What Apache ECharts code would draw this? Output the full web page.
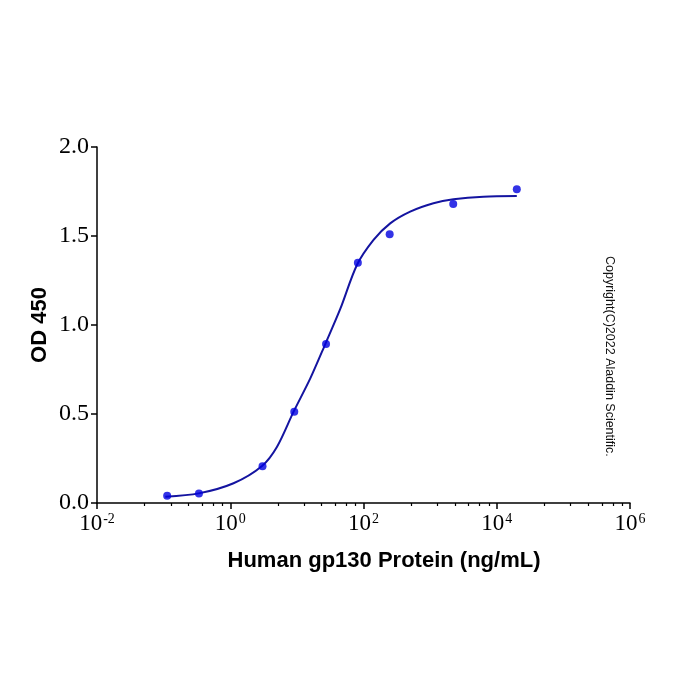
<!DOCTYPE html>
<html>
<head>
<meta charset="utf-8">
<script src="https://cdn.jsdelivr.net/npm/echarts@6/dist/echarts.min.js"></script>
<style>
  html, body { margin: 0; padding: 0; background: #fff; }
  #main { width: 700px; height: 700px; }
</style>
</head>
<body>
<div id="main"></div>
<script>
// 实测点 (ng/mL, OD450)
var conc = [0.113, 0.339, 3.05, 9.14, 27.4, 82.3, 247, 2222, 20000];
var od = [0.041, 0.054, 0.206, 0.513, 0.893, 1.350, 1.510, 1.680, 1.762];

// 拟合曲线
var fitX = [0.106, 0.336, 1.12, 3.0, 5.04, 8.93, 15.9, 26.7, 44.8, 79.7, 141.5, 251.6, 502, 1122, 2239, 6310, 20000];
var fitY = [0.035, 0.054, 0.111, 0.208, 0.316, 0.513, 0.700, 0.893, 1.090, 1.337, 1.478, 1.571, 1.637, 1.684, 1.706, 1.721, 1.725];

// 坐标轴刻度
var xMajor = [0.01, 1, 100, 10000, 1000000];
var minorMul = [5.2, 12.8, 23.6, 37.7, 55.2, 75.9];
var xMinor = [];
xMajor.slice(0, -1).forEach(function (b) {
    minorMul.forEach(function (m) { xMinor.push(b * m); });
});

var myChart = echarts.init(document.getElementById('main'));

var serif = 'Liberation Serif';
var sans = 'Liberation Sans';

var option = {
    backgroundColor: '#fff',
    animation: false,
    grid: { left: 97, right: 70, top: 147, bottom: 197 },
    xAxis: [
        {
            type: 'log',
            logBase: 10,
            min: 0.01,
            max: 1000000,
            name: 'Human gp130 Protein (ng/mL)',
            nameLocation: 'middle',
            nameGap: 47,
            nameMoveOverlap: false,
            nameTextStyle: {
                fontFamily: sans, fontWeight: 'bold', fontSize: 22, color: '#000',
                padding: [0, 0, 0, 41]
            },
            axisLine: { lineStyle: { color: '#000', width: 1.5 } },
            axisTick: { inside: false, length: 6, customValues: xMajor, lineStyle: { color: '#000', width: 1.5 } },
            splitLine: { show: false },
            axisLabel: {
                customValues: xMajor,
                margin: 9,
                formatter: function (v) {
                    var e = Math.round(Math.log10(v));
                    return '{b|10}{s|' + e + '}';
                },
                rich: {
                    b: { fontFamily: serif, fontSize: 23, color: '#000' },
                    s: { fontFamily: serif, fontSize: 14, color: '#000', verticalAlign: 'top', padding: [0, 0, 9, 1] }
                }
            }
        },
        {
            type: 'log',
            logBase: 10,
            min: 0.01,
            max: 1000000,
            position: 'bottom',
            axisLine: { show: false },
            axisLabel: { show: false },
            splitLine: { show: false },
            axisTick: { inside: false, length: 3, customValues: xMinor, lineStyle: { color: '#000', width: 1.2 } }
        }
    ],
    yAxis: {
        type: 'value',
        min: 0,
        max: 2,
        interval: 0.5,
        name: 'OD 450',
        nameLocation: 'middle',
        nameGap: 46,
        nameMoveOverlap: false,
        nameTextStyle: { fontFamily: sans, fontWeight: 'bold', fontSize: 22, color: '#000' },
        axisLine: { show: true, lineStyle: { color: '#000', width: 1.5 } },
        axisTick: { show: true, inside: false, length: 6, lineStyle: { color: '#000', width: 1.5 } },
        splitLine: { show: false },
        axisLabel: {
            margin: 8,
            fontFamily: serif,
            fontSize: 24,
            color: '#000',
            formatter: function (v) { return v.toFixed(1); }
        }
    },
    graphic: [
        {
            type: 'text',
            x: 616,
            y: 256,
            rotation: -Math.PI / 2,
            style: {
                text: 'Copyright(C)2022 Aladdin Scientific.',
                font: '12.5px "Liberation Sans"',
                fill: '#111'
            }
        }
    ],
    series: [
        {
            name: 'fit',
            type: 'line',
            data: fitX.map(function (x, i) { return [x, fitY[i]]; }),
            smooth: 0.3,
            showSymbol: false,
            lineStyle: { color: '#1414a0', width: 2 },
            z: 2
        },
        {
            name: 'OD',
            type: 'scatter',
            data: conc.map(function (x, i) { return [x, od[i]]; }),
            symbolSize: 8,
            itemStyle: { color: '#0000e0' },
            z: 3
        }
    ]
};

myChart.setOption(option);
</script>
</body>
</html>
